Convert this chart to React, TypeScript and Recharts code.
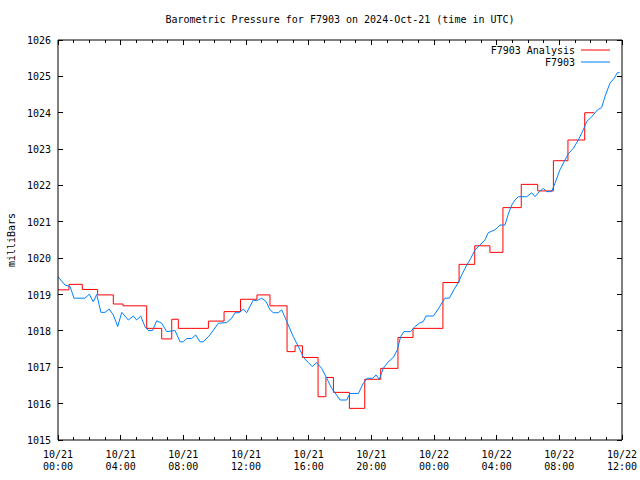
import { LineChart, Line, XAxis, YAxis, Legend, Label } from "recharts"

// hourly-ish analysis steps (hours since 10/21 00:00 UTC)
const analysisHours = [
  0, 0.7, 1.55, 2.53, 3.53, 4.15, 5.66, 6.62, 7.26, 7.68, 9.6, 10.6, 11.65, 12.7, 13.53, 14.62, 15.13, 15.6,
  16.6, 17.1, 17.58, 18.6, 19.58, 20.6, 21.7, 22.66, 24.57, 25.6, 26.6, 27.57, 28.4, 29.57, 30.62, 31.62,
  32.55, 33.62, 34.23,
]
const analysisPressure = [
  1019.13, 1019.28, 1019.14, 1018.99, 1018.74, 1018.69, 1018.07, 1017.78, 1018.32, 1018.07, 1018.27, 1018.53,
  1018.87, 1018.99, 1018.69, 1017.43, 1017.59, 1017.27, 1016.19, 1016.72, 1016.31, 1015.87, 1016.67, 1016.97,
  1017.82, 1018.07, 1019.33, 1019.83, 1020.34, 1020.16, 1021.39, 1022.03, 1021.85, 1022.68, 1023.25, 1024.0,
  1024.0,
]

// station observations
const stationHours = [
  0, 0.45, 0.77, 1.02, 1.72, 2.0, 2.25, 2.47, 2.74, 3.0, 3.27, 3.53, 3.81, 4.07, 4.49, 4.81, 5.02, 5.28, 5.55,
  5.76, 6.04, 6.3, 6.62, 6.94, 7.47, 7.79, 8.0, 8.21, 8.53, 8.79, 9.06, 9.27, 9.7, 10.23, 10.77, 11.09, 11.3,
  11.57, 11.83, 12.04, 12.47, 12.68, 13.0, 13.28, 13.53, 13.74, 14.06, 14.28, 14.6, 15.02, 15.34, 15.7, 15.98,
  16.23, 16.51, 16.83, 17.15, 17.47, 17.68, 18.0, 18.43, 18.64, 19.17, 19.49, 19.74, 20.09, 20.3, 20.51, 20.76,
  21.08, 21.4, 21.66, 21.87, 22.08, 22.51, 22.79, 23.06, 23.32, 23.49, 23.96, 24.27, 24.55, 24.7, 24.98, 25.28,
  25.55, 25.77, 26.09, 26.34, 26.62, 26.93, 27.25, 27.46, 27.89, 28.21, 28.53, 28.74, 28.96, 29.17, 29.38,
  29.92, 30.24, 30.45, 30.72, 30.98, 31.19, 31.51, 31.72, 32.04, 32.36, 32.57, 32.89, 33.21, 33.53, 33.75,
  34.07, 34.44, 34.7, 34.91, 35.23, 35.49, 35.7, 35.85,
]
const stationPressure = [
  1019.49, 1019.26, 1019.22, 1018.9, 1018.9, 1019.01, 1018.8, 1019.0, 1018.51, 1018.51, 1018.6, 1018.44,
  1018.12, 1018.51, 1018.3, 1018.41, 1018.3, 1018.41, 1018.12, 1018.01, 1018.01, 1018.28, 1018.21, 1017.98,
  1018.01, 1017.7, 1017.7, 1017.79, 1017.79, 1017.89, 1017.7, 1017.7, 1017.89, 1018.21, 1018.23, 1018.35,
  1018.5, 1018.5, 1018.6, 1018.5, 1018.85, 1018.83, 1018.9, 1018.81, 1018.58, 1018.5, 1018.5, 1018.58, 1018.26,
  1017.84, 1017.57, 1017.25, 1017.13, 1017.02, 1017.13, 1016.97, 1016.7, 1016.42, 1016.3, 1016.1, 1016.1,
  1016.28, 1016.28, 1016.56, 1016.7, 1016.7, 1016.79, 1016.67, 1016.97, 1017.15, 1017.27, 1017.48, 1017.84,
  1017.98, 1017.98, 1018.12, 1018.21, 1018.26, 1018.41, 1018.41, 1018.6, 1018.8, 1018.9, 1018.9, 1019.14,
  1019.33, 1019.54, 1019.81, 1019.99, 1020.23, 1020.36, 1020.5, 1020.7, 1020.78, 1020.91, 1020.91, 1021.21,
  1021.46, 1021.6, 1021.69, 1021.69, 1021.8, 1021.69, 1021.83, 1021.92, 1021.83, 1021.83, 1022.06, 1022.43,
  1022.7, 1022.87, 1023.02, 1023.25, 1023.53, 1023.76, 1023.89, 1024.08, 1024.14, 1024.44, 1024.81, 1024.94,
  1025.1, 1025.1,
]

const seriesNames = ["F7903 Analysis", "F7903"]
const hourTicks = [
  0, 1, 2, 3, 4, 5, 6, 7, 8, 9, 10, 11, 12, 13, 14, 15, 16, 17, 18, 19, 20, 21, 22, 23, 24, 25, 26, 27, 28, 29, 30,
  31, 32, 33, 34, 35, 36,
]
const dateLabels = ["10/21", "10/21", "10/21", "10/21", "10/21", "10/21", "10/22", "10/22", "10/22", "10/22"]
const timeLabels = ["00:00", "04:00", "08:00", "12:00", "16:00", "20:00", "00:00", "04:00", "08:00", "12:00"]
const pressureTicks = [1015, 1016, 1017, 1018, 1019, 1020, 1021, 1022, 1023, 1024, 1025, 1026]

const analysisData = analysisHours.map((t, i) => ({ t, v: analysisPressure[i] }))
const stationData = stationHours.map((t, i) => ({ t, v: stationPressure[i] }))

const FONT = "'DejaVu Sans Mono', 'Liberation Mono', monospace"

function BottomTick({ x, y, payload }: any) {
  const h = payload.value
  const major = h % 4 === 0
  const i = h / 4
  return (
    <g>
      <line x1={x} y1={y} x2={x} y2={y - (major ? 5 : 3)} stroke="#000" shapeRendering="crispEdges" />
      {major && (
        <text x={x} y={y + 18} textAnchor="middle" fontSize={10} fontFamily={FONT} fill="#000">
          <tspan x={x}>{dateLabels[i]}</tspan>
          <tspan x={x} dy={12}>
            {timeLabels[i]}
          </tspan>
        </text>
      )}
    </g>
  )
}

function TopTick({ x, y, payload }: any) {
  const major = payload.value % 4 === 0
  return <line x1={x} y1={y} x2={x} y2={y + (major ? 5 : 3)} stroke="#000" shapeRendering="crispEdges" />
}

function LeftTick({ x, y, payload }: any) {
  return (
    <g>
      <line x1={x} y1={y} x2={x + 5} y2={y} stroke="#000" shapeRendering="crispEdges" />
      <text x={x - 7} y={y + 4} textAnchor="end" fontSize={10} fontFamily={FONT} fill="#000">
        {payload.value}
      </text>
    </g>
  )
}

function RightTick({ x, y }: any) {
  return <line x1={x} y1={y} x2={x - 5} y2={y} stroke="#000" shapeRendering="crispEdges" />
}

function renderLegend({ payload }: any) {
  const items = [...(payload || [])].sort(
    (a: any, b: any) => seriesNames.indexOf(a.value) - seriesNames.indexOf(b.value),
  )
  return (
    <svg width={640} height={80}>
      {items.map((p: any, i: number) => (
        <g key={p.value}>
          <text x={575} y={54 + i * 12} textAnchor="end" fontSize={10} fontFamily={FONT} fill="#000">
            {p.value}
          </text>
          <line x1={581} x2={610} y1={50 + i * 12} y2={50 + i * 12} stroke={p.color} strokeWidth={1} />
        </g>
      ))}
    </svg>
  )
}

export default function App() {
  return (
    <div style={{ position: "absolute", left: 0, top: 0, width: 640, height: 480, background: "#fff" }}>
      <svg width={640} height={40} style={{ position: "absolute", left: 0, top: 0 }}>
        <text x={340} y={23} textAnchor="middle" fontSize={10} fontFamily={FONT} fill="#000">
          Barometric Pressure for F7903 on 2024-Oct-21 (time in UTC)
        </text>
      </svg>
      <div style={{ position: "absolute", left: 0, top: 0 }}>
        <LineChart width={640} height={480} margin={{ top: 39, right: 17, bottom: 0, left: 0 }}>
          <XAxis
            dataKey="t"
            type="number"
            domain={[0, 36]}
            ticks={hourTicks}
            interval={0}
            height={40}
            tickSize={0}
            tickMargin={0}
            tickLine={false}
            tick={<BottomTick />}
            axisLine={{ stroke: "#000" }}
          />
          <XAxis
            xAxisId="top"
            orientation="top"
            dataKey="t"
            type="number"
            domain={[0, 36]}
            ticks={hourTicks}
            interval={0}
            height={1}
            tickSize={0}
            tickMargin={0}
            tickLine={false}
            tick={<TopTick />}
            axisLine={{ stroke: "#000" }}
          />
          <YAxis
            type="number"
            domain={[1015, 1026]}
            ticks={pressureTicks}
            interval={0}
            width={58}
            tickSize={0}
            tickMargin={0}
            tickLine={false}
            tick={<LeftTick />}
            axisLine={{ stroke: "#000" }}
          >
            <Label
              content={() => (
                <text
                  x={11}
                  y={240}
                  transform="rotate(-90 11 240)"
                  textAnchor="middle"
                  dominantBaseline="central"
                  fontSize={10}
                  fontFamily={FONT}
                  fill="#000"
                >
                  milliBars
                </text>
              )}
            />
          </YAxis>
          <YAxis
            yAxisId="right"
            orientation="right"
            type="number"
            domain={[1015, 1026]}
            ticks={pressureTicks}
            interval={0}
            width={1}
            tickSize={0}
            tickMargin={0}
            tickLine={false}
            tick={<RightTick />}
            axisLine={{ stroke: "#000" }}
          />
          <Legend
            layout="vertical"
            align="center"
            verticalAlign="middle"
            content={renderLegend}
            wrapperStyle={{ position: "absolute", left: 0, top: 0, width: 640, height: 80, pointerEvents: "none" }}
          />
          <Line
            data={analysisData}
            xAxisId="top"
            yAxisId="right"
            dataKey="v"
            name={seriesNames[0]}
            type="stepAfter"
            stroke="#ff0000"
            strokeWidth={1}
            dot={false}
            activeDot={false}
            isAnimationActive={false}
          />
          <Line
            data={stationData}
            dataKey="v"
            name={seriesNames[1]}
            type="linear"
            stroke="#0080ff"
            strokeWidth={1}
            dot={false}
            activeDot={false}
            isAnimationActive={false}
          />
        </LineChart>
      </div>
    </div>
  )
}
